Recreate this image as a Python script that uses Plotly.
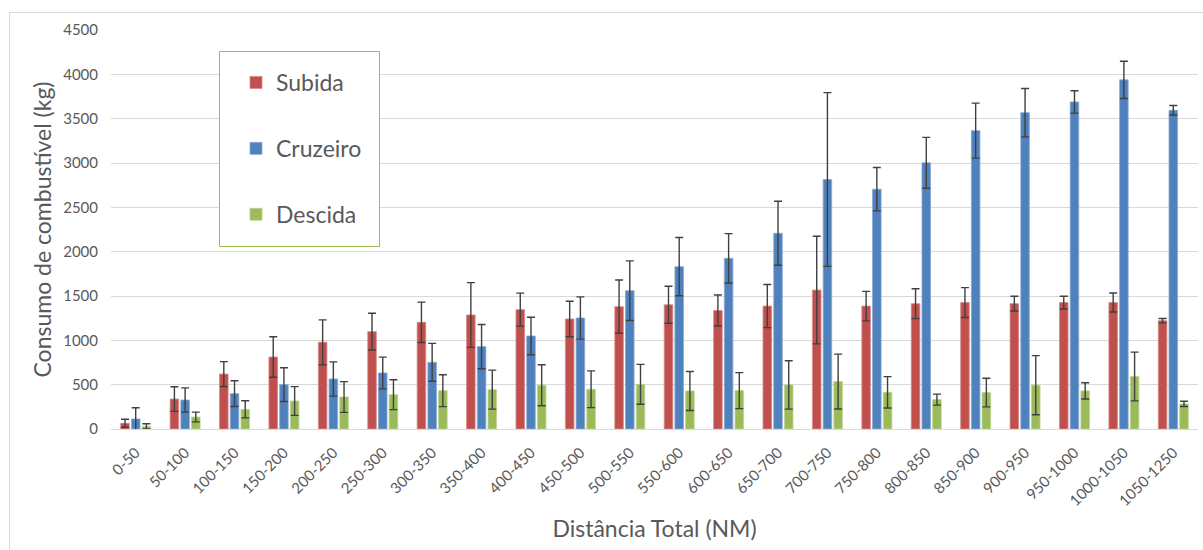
import plotly.graph_objects as go

# Distance bands (NM)
categorias = ["0-50", "50-100", "100-150", "150-200", "200-250", "250-300",
              "300-350", "350-400", "400-450", "450-500", "500-550", "550-600",
              "600-650", "650-700", "700-750", "750-800", "800-850", "850-900",
              "900-950", "950-1000", "1000-1050", "1050-1250"]

# Mean fuel burn per phase (kg)
subida = [65, 338, 620, 812, 978, 1098, 1203, 1286, 1346, 1241, 1380, 1401,
          1337, 1386, 1567, 1386, 1413, 1426, 1414, 1426, 1426, 1222]
cruzeiro = [113, 327, 399, 500, 564, 632, 752, 929, 1049, 1252, 1560, 1831,
            1925, 2207, 2814, 2705, 3002, 3365, 3568, 3689, 3938, 3595]
descida = [30, 135, 222, 316, 361, 387, 432, 444, 493, 448, 504, 429,
           433, 497, 535, 414, 331, 411, 494, 430, 592, 283]

# Standard deviations (kg)
subida_dp = [45, 139, 140, 229, 253, 207, 228, 365, 186, 200, 300, 209,
             175, 243, 607, 166, 168, 168, 83, 72, 107, 25]
cruzeiro_dp = [127, 137, 146, 190, 193, 179, 214, 250, 212, 238, 336, 328,
               279, 361, 980, 245, 287, 310, 273, 126, 210, 53]
descida_dp = [30, 55, 96, 162, 173, 168, 180, 220, 231, 207, 225, 220,
              203, 273, 310, 177, 62, 162, 334, 91, 275, 30]

serie_nomes = ["Subida", "Cruzeiro", "Descida"]
cores = ["#C0504D", "#4F81BD", "#9BBB59"]
contornos = ["#D58A88", "#8AA9D3", "#BDD394"]

W, H = 1203, 550
ML, MR, MT, MB = 111, 5, 30, 121
PW, PH = W - ML - MR, H - MT - MB
TXT = "#595959"
FONT = "Lato"


def px_x(x):
    return (x - ML) / PW


def px_y(y):
    return (H - MB - y) / PH


fig = go.Figure()
for nome, vals, dp, cor, cont in zip(serie_nomes, [subida, cruzeiro, descida],
                                     [subida_dp, cruzeiro_dp, descida_dp],
                                     cores, contornos):
    fig.add_trace(go.Bar(
        name=nome, x=categorias, y=vals, legendgroup=nome,
        marker=dict(color=cor, line=dict(color=cont, width=0.8)),
        error_y=dict(type="data", array=dp, visible=True,
                     color="#404040", thickness=1.4, width=4),
    ))

shapes = [
    # outer chart frame
    dict(type="path", xref="paper", yref="paper",
         path=f"M {px_x(9.5)},{px_y(551)} L {px_x(9.5)},{px_y(12.5)} L {px_x(1204)},{px_y(12.5)}",
         line=dict(color="#D9D9D9", width=1), layer="below"),
    # legend frame
    dict(type="rect", xref="paper", yref="paper",
         x0=px_x(219.5), x1=px_x(379.5), y0=px_y(246.5), y1=px_y(51.5),
         fillcolor="white", line=dict(color="#9BBB59", width=1), layer="above"),
]

fig.update_layout(
    width=W, height=H,
    margin=dict(l=ML, r=MR, t=MT, b=MB, pad=0),
    paper_bgcolor="white", plot_bgcolor="white",
    font=dict(family=FONT, color=TXT),
    barmode="group", bargap=0.35, bargroupgap=0.2,
    shapes=shapes,
    showlegend=True,
    legend=dict(
        x=px_x(236), y=px_y(61), xanchor="left", yanchor="top",
        bgcolor="rgba(0,0,0,0)", borderwidth=0,
        font=dict(family=FONT, size=23, color=TXT),
        traceorder="grouped", tracegroupgap=33,
    ),
    xaxis=dict(
        type="category", tickangle=-45,
        tickfont=dict(family=FONT, size=15, color=TXT),
        showline=True, linecolor="#D9D9D9", linewidth=1,
        showgrid=False, ticks="", ticklabelstandoff=8,
        title=dict(text="Distância Total (NM)",
                   font=dict(family=FONT, size=23, color=TXT), standoff=12),
    ),
    yaxis=dict(
        range=[0, 4500], dtick=500,
        tickfont=dict(family=FONT, size=15, color=TXT),
        showgrid=True, gridcolor="#D9D9D9", gridwidth=1,
        zeroline=False, ticks="", ticklabelstandoff=12,
        title=dict(text="Consumo de combustível (kg)",
                   font=dict(family=FONT, size=23, color=TXT), standoff=5),
    ),
)

fig.write_html("out.html")
